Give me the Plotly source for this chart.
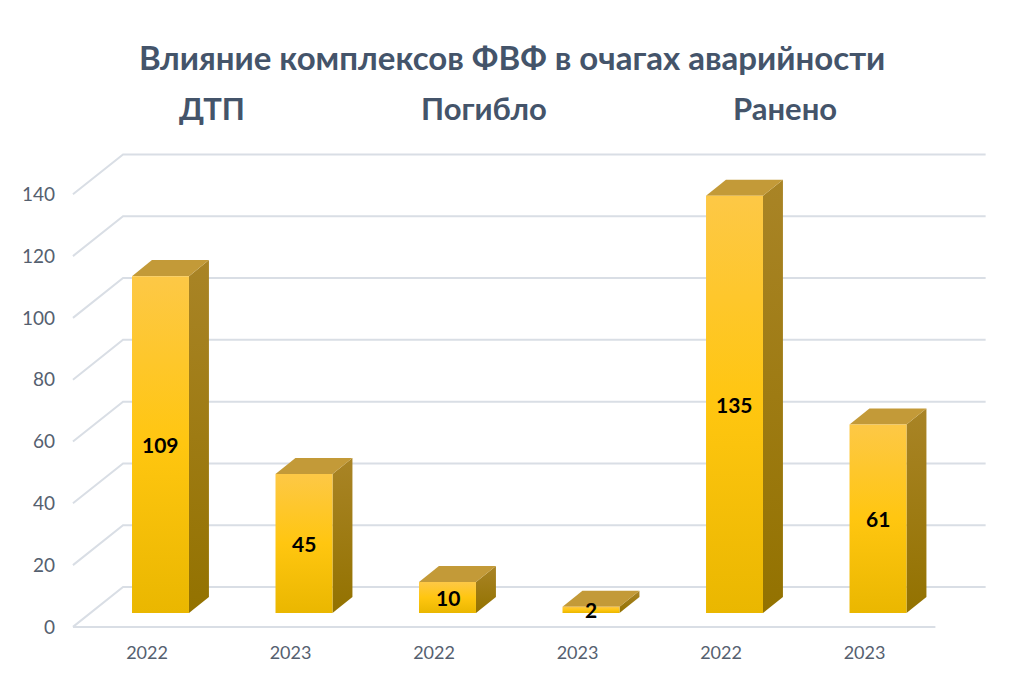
import plotly.graph_objects as go

# ---- data ----
groups = ["ДТП", "Погибло", "Ранено"]
years = ["2022", "2023", "2022", "2023", "2022", "2023"]
values = [109, 45, 10, 2, 135, 61]
y_ticks = [0, 20, 40, 60, 80, 100, 120, 140]
title = "Влияние комплексов ФВФ в очагах аварийности"

# ---- style / geometry (pseudo-3D offsets in axis units) ----
FONT = "Lato"
TXT = "#44546A"
GRID = "#D9DEE5"
BAR_W = 0.397
BAR_DX, BAR_DY = 0.139, 5.2        # bar depth offset
FRONT_OFF, BACK_OFF = -4.5, 8.4    # wall planes relative to bar plane
WALL_DX_FRONT, WALL_DX_BACK = -0.61, -0.261
FLOOR_FRONT_END, BACK_END = 5.40, 5.75
LABEL_SHIFT = -0.094
HEAD_X = [0.359, 2.254, 4.352]

fig = go.Figure()

# gridlines: back wall + left side wall diagonals
for t in y_ticks:
    fig.add_trace(go.Scatter(
        x=[WALL_DX_FRONT, WALL_DX_BACK, BACK_END],
        y=[t + FRONT_OFF, t + BACK_OFF, t + BACK_OFF],
        mode="lines", line=dict(color=GRID, width=2),
        hoverinfo="skip", showlegend=False))
# floor front edge
fig.add_trace(go.Scatter(
    x=[WALL_DX_FRONT, FLOOR_FRONT_END], y=[FRONT_OFF, FRONT_OFF],
    mode="lines", line=dict(color=GRID, width=2),
    hoverinfo="skip", showlegend=False))

for i, v in enumerate(values):
    xl, xr = i - BAR_W / 2, i + BAR_W / 2
    # side face
    fig.add_trace(go.Scatter(
        x=[xr, xr + BAR_DX, xr + BAR_DX, xr, xr],
        y=[0, BAR_DY, v + BAR_DY, v, 0],
        mode="lines", line=dict(width=0), fill="toself",
        fillgradient=dict(type="vertical",
                          colorscale=[[0, "#937200"], [1, "#A98426"]]),
        hoverinfo="skip", showlegend=False))
    # top face
    fig.add_trace(go.Scatter(
        x=[xl, xl + BAR_DX, xr + BAR_DX, xr, xl],
        y=[v, v + BAR_DY, v + BAR_DY, v, v],
        mode="lines", line=dict(width=0), fill="toself",
        fillcolor="#C39A38",
        hoverinfo="skip", showlegend=False))
    # front face
    fig.add_trace(go.Scatter(
        x=[xl, xr, xr, xl, xl],
        y=[0, 0, v, v, 0],
        mode="lines", line=dict(width=0), fill="toself",
        fillgradient=dict(type="vertical",
                          colorscale=[[0, "#EAB700"], [0.5, "#FFC610"], [1, "#FDC846"]]),
        hoverinfo="skip", showlegend=False))
    # value label
    fig.add_annotation(x=i, y=v / 2, text=f"<b>{v}</b>", showarrow=False,
                       font=dict(family=FONT, size=21, color="#000000"))

# group headers
for gx, g in zip(HEAD_X, groups):
    fig.add_annotation(x=gx, y=0.831, yref="paper", yanchor="middle",
                       text=f"<b>{g}</b>", showarrow=False,
                       font=dict(family=FONT, size=31, color=TXT))
fig.add_annotation(x=0.469, y=0.911, xref="paper", yref="paper",
                   yanchor="middle", xanchor="center",
                   text=f"<b>{title}</b>", showarrow=False,
                   font=dict(family=FONT, size=33, color=TXT))

fig.update_layout(
    width=1024, height=683,
    margin=dict(l=60, r=0, t=0, b=43),
    paper_bgcolor="white", plot_bgcolor="white",
    showlegend=False,
    xaxis=dict(range=[-0.7003, 6.0174], showgrid=False, zeroline=False,
               showline=False,
               tickvals=[i + LABEL_SHIFT for i in range(len(years))],
               ticktext=years, ticks="", ticklen=0,
               tickfont=dict(family=FONT, size=18, color="#55606F")),
    yaxis=dict(range=[-8.74, 198.38], showgrid=False, zeroline=False,
               showline=False, ticklabelstandoff=4,
               tickvals=[t + FRONT_OFF for t in y_ticks],
               ticktext=[str(t) for t in y_ticks], ticks="",
               tickfont=dict(family=FONT, size=19, color="#55606F")),
)

fig.write_html("out.html")
